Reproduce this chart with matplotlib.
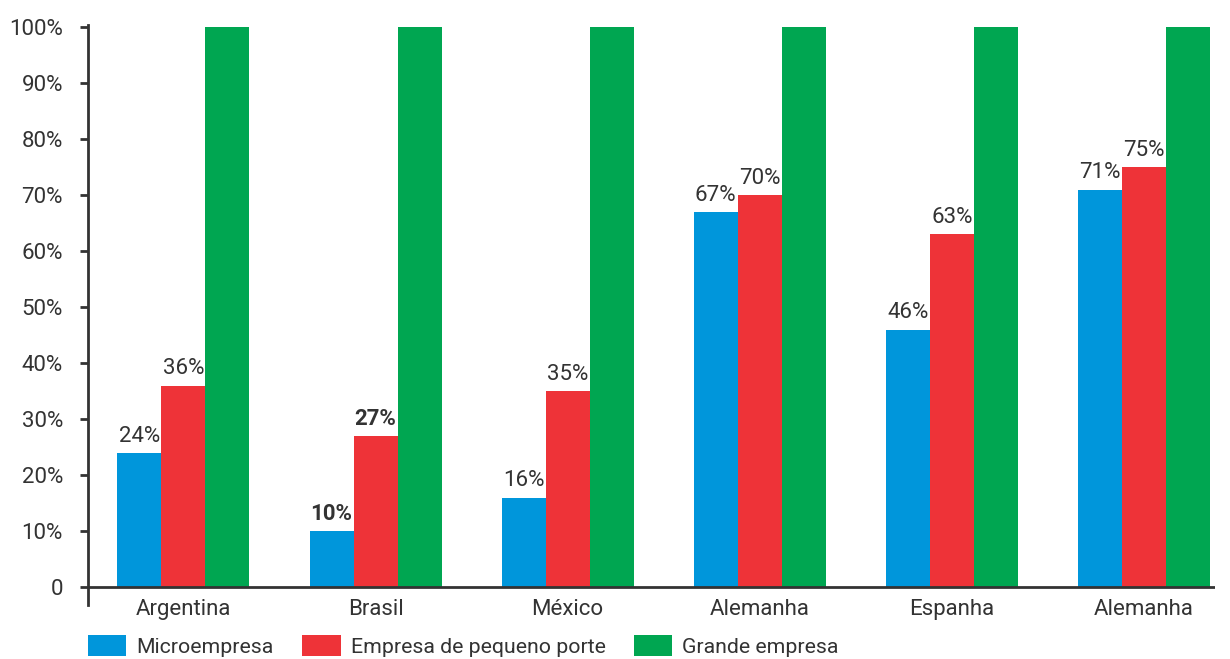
import matplotlib
matplotlib.use("Agg")
import matplotlib.pyplot as plt
import numpy as np
from matplotlib.patches import Patch

plt.rcParams['font.family'] = ['Roboto', 'DejaVu Sans']

categories = ["Argentina", "Brasil", "México", "Alemanha", "Espanha", "Alemanha"]
micro = [24, 10, 16, 67, 46, 71]
pequeno = [36, 27, 35, 70, 63, 75]
grande = [100, 100, 100, 100, 100, 100]
series_names = ["Microempresa", "Empresa de pequeno porte", "Grande empresa"]
bold_groups = ["Brasil"]
yticks = [0, 10, 20, 30, 40, 50, 60, 70, 80, 90, 100]
ytick_labels = ["0"] + [f"{v}%" for v in yticks[1:]]

colors = ["#0096DB", "#EE3338", "#00A651"]
text_color = "#333333"

fig = plt.figure(figsize=(12.3, 6.59), dpi=100)
ax = fig.add_axes([88/1230, 1-605/659, (1215-88)/1230, (605-25)/659])

x = np.arange(len(categories))
w = 0.229
for i, (vals, c) in enumerate(zip([micro, pequeno, grande], colors)):
    pos = x + (i - 1) * w
    ax.bar(pos, vals, width=w, color=c, zorder=2)
    if i < 2:
        for p, v, cat in zip(pos, vals, categories):
            ax.text(p, v + 1.1, f"{v}%", ha="center", va="bottom", fontsize=16,
                    color=text_color,
                    fontweight="bold" if cat in bold_groups else "normal")

ax.set_xlim(-0.497, len(categories) - 1 + 0.37)
ax.set_ylim(-3.2, 100.4)
ax.set_yticks(yticks)
ax.set_yticklabels(ytick_labels, fontsize=16, color=text_color)
ax.set_xticks(x)
ax.set_xticklabels(categories, fontsize=16, color=text_color)
ax.tick_params(axis="x", length=0, pad=-4)
ax.tick_params(axis="y", length=6, width=2, color=text_color, pad=12)
for s in ["top", "right", "bottom"]:
    ax.spines[s].set_visible(False)
ax.spines["left"].set_linewidth(2)
ax.spines["left"].set_color(text_color)
ax.axhline(0, color=text_color, linewidth=2, zorder=3)

handles = [Patch(facecolor=c) for c in colors]
leg = fig.legend(handles, series_names, loc="lower left",
                 bbox_to_anchor=(86/1230, 0.0), ncol=3, frameon=False,
                 fontsize=15.3, handlelength=1.8, handleheight=1.1,
                 handletextpad=0.47, columnspacing=1.35, borderaxespad=0,
                 borderpad=0.1)
for t in leg.get_texts():
    t.set_color(text_color)

fig.savefig("out.png", dpi=100)
